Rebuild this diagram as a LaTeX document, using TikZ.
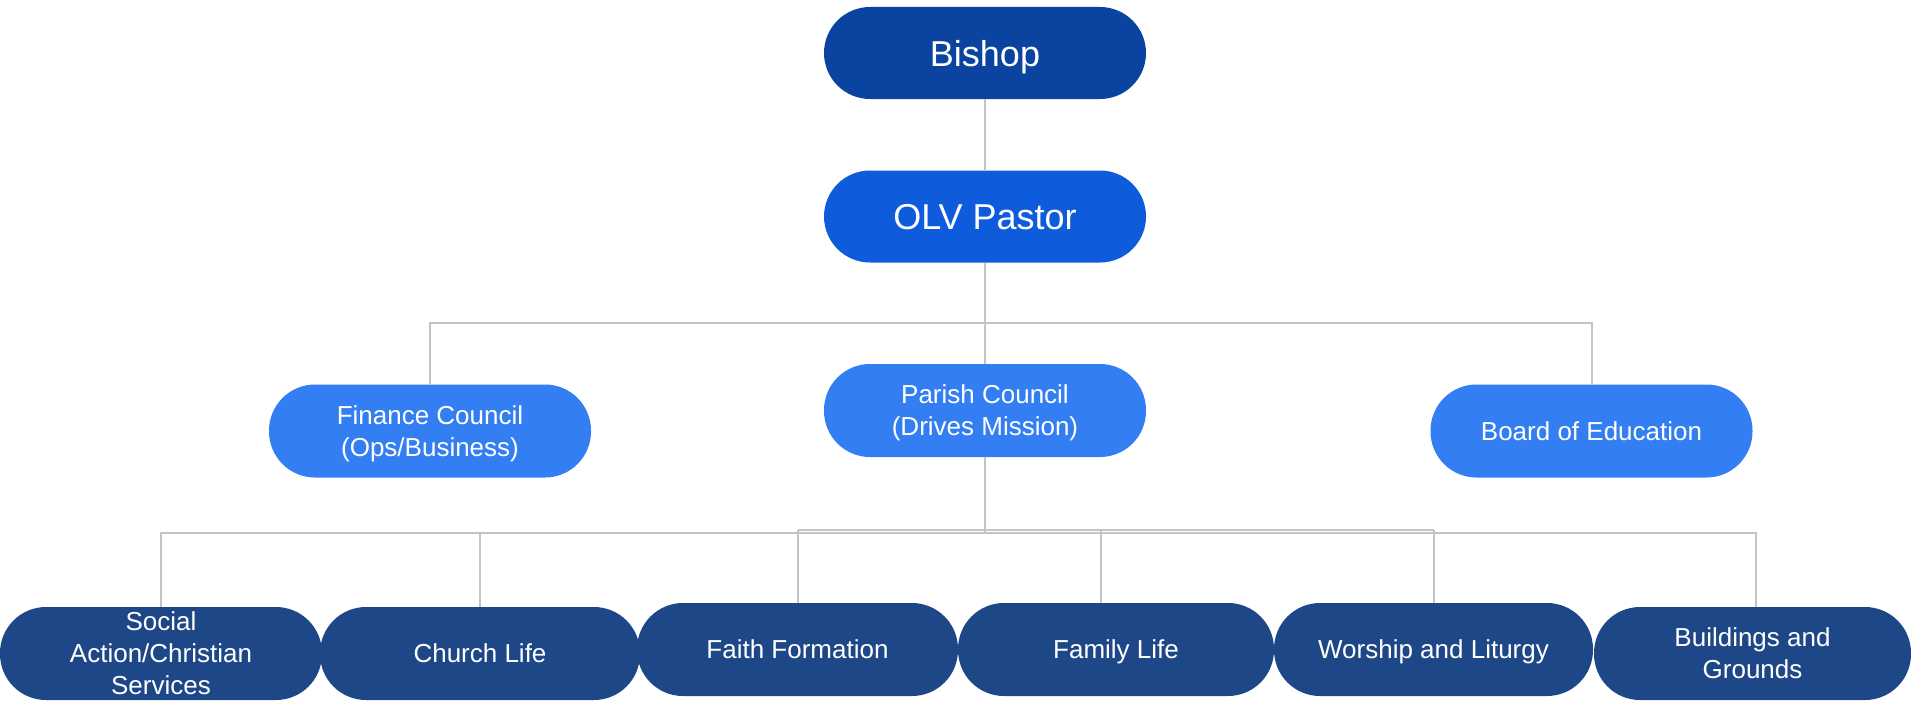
\documentclass[tikz,border=0pt]{standalone}
\usepackage{fontspec}
\setmainfont{Liberation Sans}
\usetikzlibrary{calc}
\definecolor{cBishop}{HTML}{0B43A0}
\definecolor{cPastor}{HTML}{0E5CDC}
\definecolor{cMid}{HTML}{337EF2}
\definecolor{cLow}{HTML}{1E4788}
\definecolor{cLine}{HTML}{C4C4C4}
\begin{document}
\begin{tikzpicture}[x=1pt,y=-1pt,
  box/.style={rectangle, rounded corners=46pt, text=white, align=center, inner sep=0pt,
    text depth=0pt, minimum height=93pt, font=\fontsize{26}{32}\selectfont},
  headbox/.style={box, minimum width=322pt, minimum height=92pt, font=\fontsize{36}{40}\selectfont},
  midbox/.style={box, fill=cMid, minimum width=322pt},
  lowbox/.style={box, fill=cLow},
  conn/.style={draw=cLine, line width=2pt}]
\useasboundingbox (0,0) rectangle (1911,701);

\node[headbox, fill=cBishop] (bishop) at (985,53) {Bishop};
\node[headbox, fill=cPastor] (pastor) at (985,216.5) {OLV Pastor};

\node[midbox] (finance) at (430,431) {Finance Council\\(Ops/Business)};
\node[midbox] (parish) at (985,410.5) {Parish Council\\(Drives Mission)};
\node[midbox] (board) at (1591.5,431) {Board of Education};

\node[lowbox, minimum width=322pt] (social) at (161,653.5) {Social\\Action/Christian\\Services};
\node[lowbox, minimum width=320pt] (church) at (480,653.5) {Church Life};
\node[lowbox, minimum width=321pt] (faith) at (797.5,649.5) {Faith Formation};
\node[lowbox, minimum width=316pt] (family) at (1116,649.5) {Family Life};
\node[lowbox, minimum width=319pt] (worship) at (1433.5,649.5) {Worship and Liturgy};
\node[lowbox, minimum width=317pt] (buildings) at (1752.5,653.5) {Buildings and\\Grounds};

\coordinate (bus1) at (985,323);
\coordinate (bus2) at (985,533);
\coordinate (bus3) at (985,530);
\coordinate (famtop) at ($(family.north)+(-15,0)$);
\coordinate (bldtop) at ($(buildings.north)+(3,0)$);

\draw[conn] (bishop.south) -- (pastor.north);
\draw[conn] (pastor.south) -- (parish.north);
\draw[conn] (finance.north) -- (finance.north |- bus1) -- (board.north |- bus1) -- (board.north);

\draw[conn] (parish.south) -- (bus2);
\draw[conn] (social.north) -- (social.north |- bus2) -- (bldtop |- bus2) -- (bldtop);
\draw[conn] (faith.north |- bus3) -- (worship.north |- bus3);
\draw[conn] (church.north) -- (church.north |- bus2);
\draw[conn] (faith.north) -- (faith.north |- bus3);
\draw[conn] (famtop) -- (famtop |- bus3);
\draw[conn] (worship.north) -- (worship.north |- bus3);
\end{tikzpicture}
\end{document}
